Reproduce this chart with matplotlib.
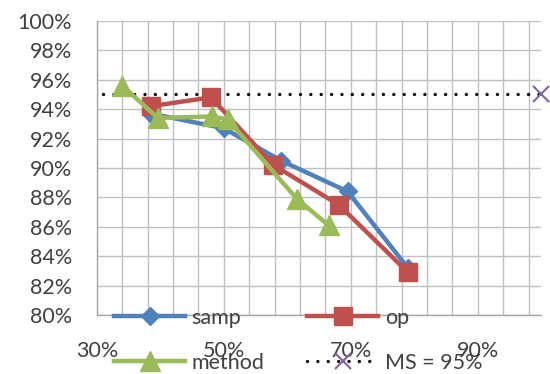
import matplotlib
matplotlib.use("Agg")
import matplotlib.pyplot as plt
import numpy as np
from matplotlib.ticker import FuncFormatter, FixedLocator

plt.rcParams['font.family'] = ['Lato', 'DejaVu Sans']

samp_x = [0.385, 0.50, 0.59, 0.695, 0.79]
samp_y = [0.937, 0.927, 0.905, 0.884, 0.832]
op_x = [0.385, 0.48, 0.578, 0.681, 0.79]
op_y = [0.942, 0.948, 0.902, 0.875, 0.829]
method_x = [0.34, 0.396, 0.482, 0.506, 0.615, 0.665]
method_y = [0.956, 0.934, 0.935, 0.933, 0.879, 0.861]
ms_x = [0.31, 1.0]
ms_y = [0.95, 0.95]

x_ticks = [0.3, 0.5, 0.7, 0.9]
y_ticks = [0.80, 0.82, 0.84, 0.86, 0.88, 0.90, 0.92, 0.94, 0.96, 0.98, 1.00]

blue = '#4F81BD'
red = '#C0504D'
green = '#9BBB59'
purple = '#8064A2'
txt = '#404040'
grid = '#C0C0C0'
fs = 15.5

fig = plt.figure(figsize=(5.5, 3.74), dpi=100)
ax = fig.add_axes([0.176, 0.158, 0.984 - 0.176, 0.944 - 0.158])

ax.set_xlim(0.3, 1.0)
ax.set_ylim(0.80, 1.00)

for gx in np.arange(0.3, 1.0, 0.04):
    ax.axvline(gx, color=grid, lw=1.0, zorder=0)
for gy in y_ticks:
    ax.axhline(gy, color=grid, lw=1.0, zorder=0)

ax.xaxis.set_major_locator(FixedLocator(x_ticks))
ax.yaxis.set_major_locator(FixedLocator(y_ticks))
pct = FuncFormatter(lambda v, p: f"{v*100:.0f}%")
ax.xaxis.set_major_formatter(pct)
ax.yaxis.set_major_formatter(pct)
ax.tick_params(axis='both', length=0, labelsize=fs, labelcolor=txt)
ax.tick_params(axis='x', pad=19)
ax.tick_params(axis='y', pad=18)

for s in ['top', 'right']:
    ax.spines[s].set_visible(False)
for s in ['left', 'bottom']:
    ax.spines[s].set_color('#A6A6A6')
    ax.spines[s].set_linewidth(1.0)

l_ms, = ax.plot(ms_x, ms_y, color='black', lw=2.4, linestyle=(0, (0.01, 3.1)),
                dash_capstyle='round', marker='x', markevery=[1], markersize=11,
                markeredgecolor=purple, markeredgewidth=1.5, label='MS = 95%', zorder=3,
                clip_on=False)
l_samp, = ax.plot(samp_x, samp_y, color=blue, lw=3.2, marker='D', markersize=9.5,
                  label='samp', zorder=4)
l_op, = ax.plot(op_x, op_y, color=red, lw=3.2, marker='s', markersize=13,
                label='op', zorder=5)
l_method, = ax.plot(method_x, method_y, color=green, lw=3.2, marker='^', markersize=15,
                    label='method', zorder=6)

leg = fig.legend([l_samp, l_method, l_op, l_ms], ['samp', 'method', 'op', 'MS = 95%'],
                 ncol=2, frameon=False, fontsize=fs, labelcolor=txt,
                 handlelength=3.3, handletextpad=0.3, columnspacing=2.0,
                 labelspacing=1.15, loc='upper left',
                 bbox_to_anchor=(114 / 550, 1 - 308 / 374), borderaxespad=0, borderpad=0)

fig.savefig('out.png', dpi=100)
